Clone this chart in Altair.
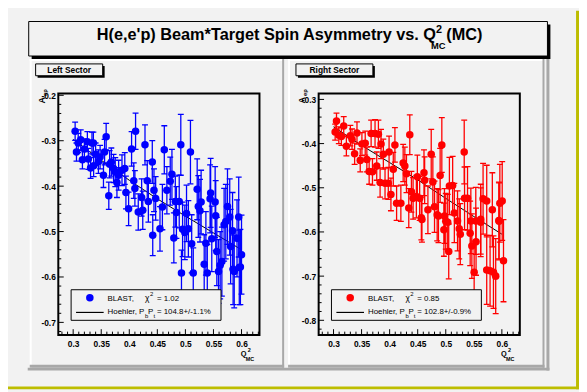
import altair as alt
import pandas as pd

BG = "#f2f2f2"
GRAY = "#a8a8a8"
FONT = "Liberation Sans"

# ---------------- data ----------------
left_q = [0.3035, 0.3059, 0.309, 0.3135, 0.3165, 0.320, 0.3253, 0.327, 0.331, 0.3335,
          0.336, 0.3365, 0.340, 0.345, 0.348, 0.354, 0.356, 0.3588, 0.3635, 0.365,
          0.368, 0.372, 0.375, 0.378, 0.381, 0.387, 0.392, 0.394, 0.3988, 0.4041,
          0.408, 0.410, 0.4112, 0.416, 0.422, 0.424, 0.428, 0.432, 0.434, 0.441,
          0.4418, 0.444, 0.447, 0.4547, 0.459, 0.4624, 0.467, 0.473, 0.476, 0.4794,
          0.482, 0.484, 0.489, 0.4918, 0.493, 0.495, 0.499, 0.502, 0.5053, 0.509,
          0.5112, 0.514, 0.521, 0.523, 0.526, 0.528, 0.5335, 0.5365, 0.539, 0.544,
          0.545, 0.547, 0.553, 0.554, 0.556, 0.559, 0.562, 0.565, 0.569, 0.572,
          0.575, 0.579, 0.5806, 0.584, 0.585, 0.587, 0.592, 0.595, 0.596, 0.598, 0.600]
left_a = [-0.279, -0.325, -0.305, -0.298, -0.342, -0.318, -0.302, -0.340, -0.360, -0.305,
          -0.305, -0.355, -0.330, -0.346, -0.336, -0.376, -0.325, -0.291, -0.421, -0.352,
          -0.347, -0.361, -0.369, -0.392, -0.376, -0.365, -0.361, -0.414, -0.450, -0.318,
          -0.388, -0.405, -0.279, -0.457, -0.425, -0.453, -0.309, -0.388, -0.434, -0.347,
          -0.508, -0.409, -0.427, -0.494, -0.446, -0.320, -0.409, -0.389, -0.374, -0.514,
          -0.434, -0.458, -0.434, -0.309, -0.591, -0.495, -0.502, -0.460, -0.494, -0.325,
          -0.527, -0.591, -0.407, -0.445, -0.454, -0.435, -0.572, -0.526, -0.591, -0.428,
          -0.415, -0.516, -0.435, -0.465, -0.544, -0.588, -0.574, -0.566, -0.485, -0.478,
          -0.445, -0.468, -0.533, -0.498, -0.583, -0.588, -0.515, -0.468, -0.579, -0.578, -0.551]
left_err = [0.020, 0.020, 0.021, 0.022, 0.020, 0.022, 0.022, 0.023, 0.023, 0.024,
            0.024, 0.024, 0.025, 0.026, 0.026, 0.027, 0.028, 0.029, 0.030, 0.030,
            0.031, 0.031, 0.032, 0.033, 0.033, 0.034, 0.035, 0.036, 0.037, 0.038,
            0.039, 0.039, 0.040, 0.040, 0.041, 0.042, 0.044, 0.044, 0.045, 0.047,
            0.045, 0.047, 0.048, 0.049, 0.050, 0.053, 0.052, 0.053, 0.055, 0.055,
            0.056, 0.057, 0.058, 0.067, 0.050, 0.060, 0.060, 0.062, 0.062, 0.070,
            0.064, 0.055, 0.067, 0.068, 0.069, 0.070, 0.065, 0.070, 0.062, 0.075,
            0.076, 0.072, 0.078, 0.077, 0.075, 0.070, 0.074, 0.076, 0.080, 0.082,
            0.083, 0.084, 0.082, 0.084, 0.078, 0.080, 0.085, 0.088, 0.082, 0.083, 0.087]

right_q = [0.3029, 0.3053, 0.3094, 0.314, 0.3182, 0.3229, 0.330, 0.333, 0.3376, 0.3418,
           0.3476, 0.3506, 0.3565, 0.3594, 0.3635, 0.367, 0.3694, 0.374, 0.377, 0.380,
           0.383, 0.3847, 0.3888, 0.3918, 0.3976, 0.399, 0.4023, 0.4065, 0.4094, 0.4124,
           0.420, 0.4241, 0.4271, 0.430, 0.4341, 0.4359, 0.4388, 0.4418, 0.4476, 0.4494,
           0.4535, 0.4565, 0.4576, 0.4612, 0.4624, 0.4682, 0.4741, 0.477, 0.480, 0.4847,
           0.487, 0.490, 0.493, 0.4967, 0.4977, 0.500, 0.5035, 0.5053, 0.5065, 0.5123,
           0.5153, 0.521, 0.524, 0.5259, 0.5329, 0.5335, 0.5388, 0.5435, 0.5447, 0.5465,
           0.5506, 0.554, 0.5535, 0.5623, 0.5623, 0.5665, 0.573, 0.573, 0.579, 0.583,
           0.585, 0.589, 0.5947, 0.595, 0.5964, 0.6006, 0.6029]
right_a = [-0.374, -0.349, -0.381, -0.384, -0.360, -0.406, -0.382, -0.390, -0.423, -0.376,
           -0.438, -0.401, -0.399, -0.436, -0.463, -0.377, -0.464, -0.377, -0.451, -0.379,
           -0.488, -0.401, -0.424, -0.490, -0.490, -0.419, -0.515, -0.458, -0.403, -0.535,
           -0.535, -0.444, -0.451, -0.468, -0.546, -0.380, -0.509, -0.524, -0.520, -0.475,
           -0.524, -0.568, -0.572, -0.466, -0.483, -0.550, -0.424, -0.487, -0.543, -0.561,
           -0.564, -0.472, -0.403, -0.595, -0.564, -0.576, -0.578, -0.644, -0.496, -0.495,
           -0.557, -0.575, -0.593, -0.605, -0.419, -0.524, -0.524, -0.603, -0.575, -0.632,
           -0.691, -0.622, -0.575, -0.571, -0.578, -0.525, -0.530, -0.686, -0.688, -0.550,
           -0.691, -0.700, -0.574, -0.576, -0.535, -0.530, -0.665]
right_err = [0.018, 0.018, 0.019, 0.020, 0.021, 0.022, 0.023, 0.023, 0.024, 0.025,
             0.026, 0.026, 0.027, 0.028, 0.029, 0.030, 0.030, 0.031, 0.032, 0.032,
             0.033, 0.033, 0.034, 0.035, 0.036, 0.036, 0.037, 0.038, 0.039, 0.039,
             0.041, 0.042, 0.043, 0.043, 0.044, 0.045, 0.046, 0.047, 0.048, 0.049,
             0.050, 0.050, 0.051, 0.052, 0.053, 0.054, 0.056, 0.057, 0.058, 0.059,
             0.060, 0.061, 0.062, 0.060, 0.062, 0.063, 0.063, 0.062, 0.065, 0.066,
             0.067, 0.068, 0.068, 0.069, 0.072, 0.071, 0.072, 0.073, 0.074, 0.073,
             0.070, 0.076, 0.076, 0.079, 0.078, 0.080, 0.081, 0.078, 0.080, 0.084,
             0.082, 0.085, 0.087, 0.087, 0.088, 0.089, 0.093]

fit_q = [0.30, 0.35, 0.40, 0.45, 0.50, 0.55, 0.60]
left_fit = [-0.297, -0.343, -0.387, -0.428, -0.466, -0.503, -0.540]
right_fit = [-0.362, -0.404, -0.443, -0.482, -0.524, -0.565, -0.605]

x_major = [0.30, 0.35, 0.40, 0.45, 0.50, 0.55, 0.60]
x_minor = [0.28, 0.29, 0.31, 0.32, 0.33, 0.34, 0.36, 0.37, 0.38, 0.39, 0.41, 0.42,
           0.43, 0.44, 0.46, 0.47, 0.48, 0.49, 0.51, 0.52, 0.53, 0.54, 0.56, 0.57,
           0.58, 0.59, 0.61, 0.62, 0.63]
left_y_major = [-0.7, -0.6, -0.5, -0.4, -0.3, -0.2]
left_y_minor = [-0.72, -0.68, -0.66, -0.64, -0.62, -0.58, -0.56, -0.54, -0.52, -0.48,
                -0.46, -0.44, -0.42, -0.38, -0.36, -0.34, -0.32, -0.28, -0.26, -0.24, -0.22]
right_y_major = [-0.8, -0.7, -0.6, -0.5, -0.4, -0.3]
right_y_minor = [-0.82, -0.78, -0.76, -0.74, -0.72, -0.68, -0.66, -0.64, -0.62, -0.58,
                 -0.56, -0.54, -0.52, -0.48, -0.46, -0.44, -0.42, -0.38, -0.36, -0.34, -0.32]

W, H = 204, 245
TOP = 92
XDOM = [0.2735, 0.632]
ONE = pd.DataFrame({"k": [0]})


def rect(ox, x1, y1, x2, y2, fill=BG, stroke=None, sw=1.0):
    if stroke:
        m = alt.Chart(ONE).mark_rect(fill=fill, stroke=stroke, strokeWidth=sw)
    else:
        m = alt.Chart(ONE).mark_rect(fill=fill, strokeWidth=0)
    return m.encode(x=alt.value(x1 - ox), x2=alt.value(x2 - ox),
                    y=alt.value(y1 - TOP), y2=alt.value(y2 - TOP))


def line(ox, x1, y1, x2, y2, color="black", sw=1.0):
    return alt.Chart(ONE).mark_rule(color=color, strokeWidth=sw).encode(
        x=alt.value(x1 - ox), x2=alt.value(x2 - ox),
        y=alt.value(y1 - TOP), y2=alt.value(y2 - TOP))


def text(ox, x, y, s, size, bold=False, align="left", baseline="alphabetic", angle=0):
    return alt.Chart(ONE).mark_text(
        text=s, font=FONT, fontSize=size, fontWeight="bold" if bold else "normal",
        align=align, baseline=baseline, angle=angle, color="black"
    ).encode(x=alt.value(x - ox), y=alt.value(y - TOP))


def panel(ox, pad_x1, pad_x2, q, a, err, fitv, ydom, ymaj, ymin, color,
          sector, sbox_w, chi, pbpt, first):
    xs = alt.Scale(domain=XDOM, nice=False, zero=False)
    ys = alt.Scale(domain=ydom, nice=False, zero=False)
    xaxis = alt.Axis(values=x_major, labelExpr="format(datum.value, '.2~f')",
                     labelFont=FONT, labelFontSize=8.5, labelFontWeight="bold",
                     labelColor="black", ticks=False, tickSize=0, domain=False,
                     grid=False, title=None, labelPadding=5, labelFlush=False,
                     labelOverlap=False, zindex=1)
    yaxis = alt.Axis(values=ymaj,
                     labelExpr="replace(format(datum.value, '.1f'), '\u2212', '-')",
                     labelFont=FONT, labelFontSize=8.5, labelFontWeight="bold",
                     labelColor="black", ticks=False, tickSize=0, domain=False,
                     grid=False, title=None, labelPadding=3, labelFlush=False,
                     labelOverlap=False, zindex=1)

    def X(f):
        return alt.X(f, type="quantitative", scale=xs, axis=xaxis)

    def Y(f):
        return alt.Y(f, type="quantitative", scale=ys, axis=yaxis)

    df = pd.DataFrame({"q": q, "a": a,
                       "lo": [v - e for v, e in zip(a, err)],
                       "hi": [v + e for v, e in zip(a, err)]})
    fit = pd.DataFrame({"q": fit_q, "a": fitv})

    L = []
    if first:
        # canvas
        L.append(rect(ox, 8, 8, 587, 392, fill=BG))
        L.append(rect(ox, 584, 8, 587, 392, fill="#bdbd00"))
        L.append(rect(ox, 8, 389, 587, 392, fill="#bdbd00"))
        # title box
        L.append(rect(ox, 32, 22, 558, 57, fill="black"))
        L.append(rect(ox, 29, 19, 555, 54, fill=BG, stroke="black", sw=1))
        L.append(text(ox, 98, 38, "H(e,e'p) Beam*Target Spin Asymmetry vs. Q", 16.5, True))
        L.append(text(ox, 442, 31, "2", 11, True))
        L.append(text(ox, 437, 47, "MC", 9.5, True))
        L.append(text(ox, 489, 38, "(MC)", 16.5, True, align="right"))
        # outer pad edges
        L.append(rect(ox, 554, 57, 557, 373, fill=GRAY))
        L.append(rect(ox, 28, 370, 557, 373, fill=GRAY))
    # pad bevel
    L.append(rect(ox, pad_x1, 57, pad_x2, 59, fill="white"))
    L.append(rect(ox, pad_x1, 57, pad_x1 + 2, 370, fill="white"))
    L.append(rect(ox, pad_x2 - 2, 57, pad_x2, 370, fill=GRAY))
    L.append(rect(ox, pad_x1, 367, pad_x2, 370, fill=GRAY))
    # sector label
    L.append(rect(ox, ox - 21, 64, ox - 21 + sbox_w, 76, fill="black"))
    L.append(rect(ox, ox - 23, 62, ox - 23 + sbox_w, 74, fill=BG, stroke="black", sw=1))
    L.append(text(ox, ox - 23 + sbox_w / 2, 68.5, sector, 8.5, True, align="center",
                  baseline="middle"))
    # frame
    L.append(alt.Chart(ONE).mark_rect(filled=False, stroke="black", strokeWidth=2).encode(
        x=alt.value(0), x2=alt.value(W), y=alt.value(0), y2=alt.value(H)))
    # ticks
    L.append(alt.Chart(pd.DataFrame({"q": x_major})).mark_rule(color="black").encode(
        x=X("q"), y=alt.value(H), y2=alt.value(H - 6)))
    L.append(alt.Chart(pd.DataFrame({"q": x_minor})).mark_rule(color="black").encode(
        x=X("q"), y=alt.value(H), y2=alt.value(H - 3.5)))
    L.append(alt.Chart(pd.DataFrame({"a": ymaj})).mark_rule(color="black").encode(
        y=Y("a"), x=alt.value(0), x2=alt.value(5.5)))
    L.append(alt.Chart(pd.DataFrame({"a": ymin})).mark_rule(color="black").encode(
        y=Y("a"), x=alt.value(0), x2=alt.value(3)))
    # fit curve
    L.append(alt.Chart(fit).mark_line(color="black", strokeWidth=1, clip=True).encode(
        x=X("q"), y=Y("a")))
    # error bars
    L.append(alt.Chart(df).mark_rule(color=color, strokeWidth=1.3, clip=True).encode(
        x=X("q"), y=Y("lo"), y2="hi:Q"))
    L.append(alt.Chart(df).mark_rule(color=color, strokeWidth=1.3, clip=True,
                                     xOffset=-3, x2Offset=3).encode(
        x=X("q"), x2="q:Q", y=Y("hi")))
    L.append(alt.Chart(df).mark_rule(color=color, strokeWidth=1.3, clip=True,
                                     xOffset=-3, x2Offset=3).encode(
        x=X("q"), x2="q:Q", y=Y("lo")))
    # points
    L.append(alt.Chart(df).mark_circle(color=color, size=58, opacity=1, clip=True).encode(
        x=X("q"), y=Y("a")))
    # legend
    lx = ox - 59
    L.append(rect(ox, 72 + lx, 291, 224 + lx, 322, fill=BG, stroke="black", sw=1))
    L.append(alt.Chart(ONE).mark_circle(color=color, size=58, opacity=1).encode(
        x=alt.value(91 + lx - ox), y=alt.value(299 - TOP)))
    L.append(line(ox, 77 + lx, 314, 105 + lx, 314, sw=1.2))
    L.append(text(ox, 109 + lx, 302, "BLAST,", 8))
    L.append(text(ox, 147 + lx, 302, "\u03c7", 8.5))
    L.append(text(ox, 152 + lx, 297, "2", 6))
    L.append(text(ox, 159 + lx, 302, "= " + chi, 8))
    L.append(text(ox, 109 + lx, 316, "Hoehler, P", 8))
    L.append(text(ox, 147 + lx, 319.5, "b", 6))
    L.append(text(ox, 150 + lx, 316, "P", 8))
    L.append(text(ox, 155.5 + lx, 319.5, "t", 6))
    L.append(text(ox, 159 + lx, 316, "= " + pbpt, 8))
    # axis titles
    L.append(text(ox, 42.5 + lx, 99, "A", 9, True, align="center", baseline="middle", angle=270))
    L.append(text(ox, 45.5 + lx, 91, "ep", 6, True, align="center", baseline="middle", angle=270))
    L.append(text(ox, 244 + lx, 358.5, "Q", 7.5, True))
    L.append(text(ox, 251 + lx, 354, "2", 5.5, True))
    L.append(text(ox, 249 + lx, 363, "MC", 5.5, True))

    return alt.layer(*L).properties(width=W, height=H)


left = panel(59, 30, 288, left_q, left_a, left_err, left_fit, [-0.728, -0.196],
             left_y_major, left_y_minor, "#0000ff", "Left Sector", 68, "1.02",
             "104.8+/-1.1%", True)
right = panel(323, 292, 552, right_q, right_a, right_err, right_fit, [-0.8335, -0.2866],
              right_y_major, right_y_minor, "#ff0000", "Right Sector", 78, "0.85",
              "102.8+/-0.9%", False)

chart = alt.hconcat(left, right, spacing=60, bounds="flush").properties(
    padding=0, background=BG
).configure_view(strokeWidth=0)

chart.save("out.html", embed_options={"renderer": "svg", "actions": False})
